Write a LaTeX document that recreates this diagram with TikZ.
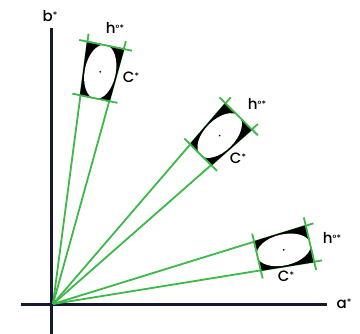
\documentclass[tikz,border=0pt]{standalone}
\usepackage{fontspec}
\setmainfont{Poppins}[BoldFont=Poppins Medium]
\definecolor{axisc}{RGB}{22,26,44}
\definecolor{gr}{RGB}{60,185,70}
\tikzset{
  axisline/.style={draw=axisc,line width=3pt},
  ray/.style={draw=gr,line width=1.8pt},
  tick/.style={draw=gr,line width=1.8pt},
  lbl/.style={font=\fontsize{15}{15}\selectfont\bfseries,text=black,inner sep=0pt},
}
\newcommand{\hstar}{h{\fontsize{9}{9}\selectfont\raisebox{0.5ex}{°*}}}
\newcommand{\cstar}{C{\fontsize{9}{9}\selectfont\raisebox{0.65ex}{*}}}
\begin{document}
\begin{tikzpicture}[x=1pt,y=1pt]
\useasboundingbox (0,0) rectangle (360,334);
\fill[white] (0,0) rectangle (360,334);
% axes
\coordinate (O) at (53,30);
\coordinate (ytop) at (52,306);
\coordinate (ybot) at (52,0);
\coordinate (xl) at (21,29);
\coordinate (xr) at (327,29);
\draw[axisline] (ybot) -- (ytop);
\draw[axisline] (xl) -- (xr);
\node[lbl] (bl) at (50,318) {b{\fontsize{9}{9}\selectfont\raisebox{0.65ex}{*}}};
\node[lbl] (al) at (344,30) {a{\fontsize{9}{9}\selectfont\raisebox{0.65ex}{*}}};
% boxes
\foreach \i/\ang in {1/78.5,2/45.3,3/13.2}{
  \begin{scope}[shift={(O)},rotate=\ang]
    \coordinate (o\i) at (0,0);
    \coordinate (ra\i) at (272,19.04);
    \coordinate (rb\i) at (272,-19.04);
    \coordinate (c1\i) at (210,14.7);
    \coordinate (c2\i) at (264,18.48);
    \coordinate (c3\i) at (264,-18.48);
    \coordinate (c4\i) at (210,-14.7);
    \coordinate (t1a\i) at (210,23);
    \coordinate (t1b\i) at (210,-23);
    \coordinate (t2a\i) at (264,27);
    \coordinate (t2b\i) at (264,-27);
    \coordinate (m\i) at (237,0);
    \draw[ray] (o\i) -- (ra\i);
    \draw[ray] (o\i) -- (rb\i);
    \filldraw[black,line width=1pt] (c1\i) -- (c2\i) -- (c3\i) -- (c4\i) -- cycle;
    \fill[white] (m\i) ellipse [x radius=27.5,y radius=15.5];
    \fill[black] (m\i) circle (1);
    \draw[tick] (t1a\i) -- (t1b\i);
    \draw[tick] (t2a\i) -- (t2b\i);
  \end{scope}
}
\node[lbl] (h1) at (115,306) {\hstar};
\node[lbl] (C1) at (131,257) {\cstar};
\node[lbl] (h2) at (257,230) {\hstar};
\node[lbl] (C2) at (238,176) {\cstar};
\node[lbl] (h3) at (332,96) {\hstar};
\node[lbl] (C3) at (286,58) {\cstar};
\end{tikzpicture}
\end{document}
